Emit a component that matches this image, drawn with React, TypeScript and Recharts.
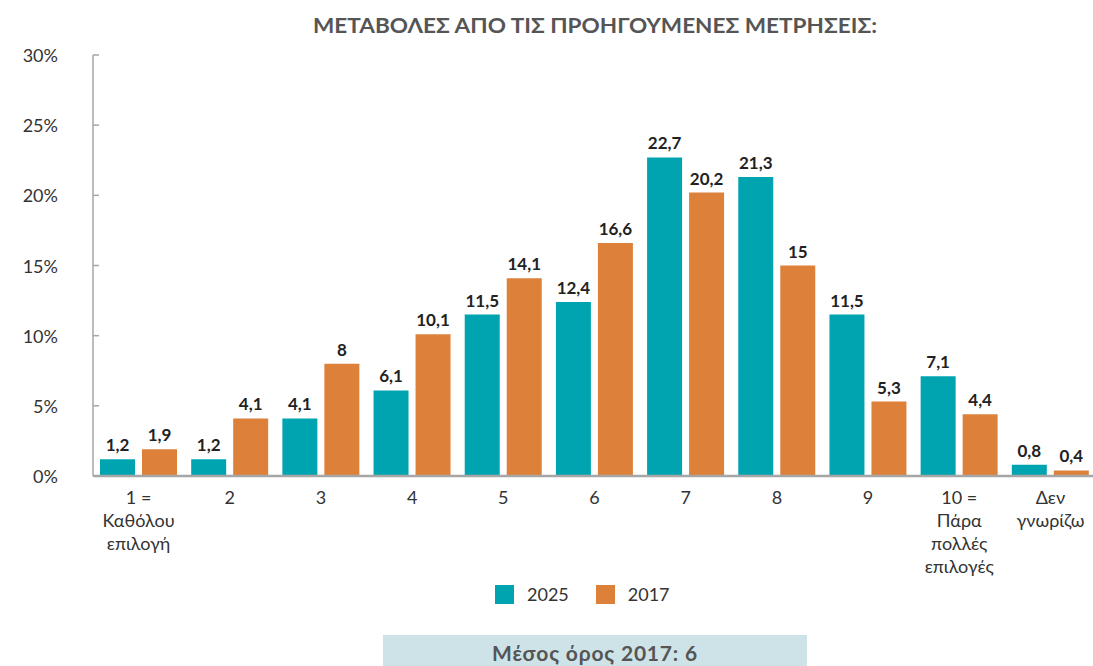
import React from 'react';
import { Bar, BarChart, LabelList, Legend, XAxis, YAxis } from 'recharts';

const categories = [
  '1 =\nΚαθόλου\nεπιλογή',
  '2',
  '3',
  '4',
  '5',
  '6',
  '7',
  '8',
  '9',
  '10 =\nΠάρα\nπολλές\nεπιλογές',
  'Δεν\nγνωρίζω',
];
const values2025 = [1.2, 1.2, 4.1, 6.1, 11.5, 12.4, 22.7, 21.3, 11.5, 7.1, 0.8];
const values2017 = [1.9, 4.1, 8, 10.1, 14.1, 16.6, 20.2, 15, 5.3, 4.4, 0.4];
const yTicks = [0, 5, 10, 15, 20, 25, 30];

const TEAL = '#00A4B0';
const ORANGE = '#DD803A';
const AXIS = '#A6A6A6';
const FONT = 'Lato, "Open Sans", sans-serif';

const AXIS_X = 93;
const PLOT_BOTTOM = 476;

const data = categories.map((name, i) => ({
  name,
  y2025: values2025[i],
  y2017: values2017[i],
}));

const fmt = (v: number) => String(v).replace('.', ',');

// eslint-disable-next-line @typescript-eslint/no-explicit-any
const YTick = (props: any) => {
  const { y, payload } = props;
  return (
    <g>
      <line x1={AXIS_X} x2={AXIS_X + 6} y1={y} y2={y} stroke={AXIS} strokeWidth={1.5} />
      <text
        x={AXIS_X - 35}
        y={y}
        textAnchor="end"
        dominantBaseline="central"
        fontFamily={FONT}
        fontSize={18}
        fill="#333"
      >
        {payload.value}%
      </text>
    </g>
  );
};

// eslint-disable-next-line @typescript-eslint/no-explicit-any
const XTick = (props: any) => {
  const { x, payload } = props;
  const lines = String(payload.value).split('\n');
  return (
    <text textAnchor="middle" fontFamily={FONT} fontSize={18} fill="#333">
      {lines.map((l, i) => (
        <tspan key={i} x={x} y={PLOT_BOTTOM + 21 + i * 23} dominantBaseline="central">
          {l}
        </tspan>
      ))}
    </text>
  );
};

const LegendContent = () => (
  <div style={{ display: 'flex', alignItems: 'center', fontFamily: FONT, fontSize: 18, color: '#333' }}>
    {[
      { label: '2025', color: TEAL },
      { label: '2017', color: ORANGE },
    ].map(item => (
      <div key={item.label} style={{ display: 'flex', alignItems: 'center', marginRight: 27 }}>
        <span style={{ width: 19, height: 19, background: item.color, display: 'inline-block', marginRight: 13 }} />
        <span>{item.label}</span>
      </div>
    ))}
  </div>
);

export default function App() {
  return (
    <div
      style={{
        position: 'absolute',
        left: 0,
        top: 0,
        width: 1093,
        height: 666,
        overflow: 'hidden',
        background: '#fff',
      }}
    >
      <svg width={1093} height={45} style={{ position: 'absolute', left: 0, top: 0 }}>
        <text
          x={313}
          y={33}
          textLength={564}
          lengthAdjust="spacingAndGlyphs"
          fontFamily={FONT}
          fontWeight={700}
          fontSize={21}
          fill="#555"
        >
          ΜΕΤΑΒΟΛΕΣ ΑΠΟ ΤΙΣ ΠΡΟΗΓΟΥΜΕΝΕΣ ΜΕΤΡΗΣΕΙΣ:
        </text>
      </svg>
      <div style={{ position: 'absolute', left: 0, top: 0 }}>
        <BarChart
          width={1100}
          height={666}
          data={data}
          margin={{ top: 55, right: 4, left: 0, bottom: 100 }}
          barSize={35}
          barGap={7}
        >
          <XAxis
            dataKey="name"
            height={90}
            interval={0}
            tickLine={false}
            axisLine={{ stroke: AXIS, strokeWidth: 2.5 }}
            tick={<XTick />}
          />
          <YAxis
            width={93}
            domain={[0, 30]}
            ticks={yTicks}
            interval={0}
            tickLine={false}
            axisLine={{ stroke: AXIS, strokeWidth: 1.5 }}
            tick={<YTick />}
          />
          <Legend
            layout="horizontal"
            verticalAlign="middle"
            align="center"
            content={<LegendContent />}
            wrapperStyle={{ position: 'absolute', top: 583, left: 495, width: 300, height: 20 }}
          />
          <Bar dataKey="y2025" name="2025" fill={TEAL} isAnimationActive={false}>
            <LabelList
              dataKey="y2025"
              position="top"
              offset={8}
              formatter={(v: number) => fmt(v)}
              style={{ fontFamily: FONT, fontSize: 17, fontWeight: 700, fill: '#222' }}
            />
          </Bar>
          <Bar dataKey="y2017" name="2017" fill={ORANGE} isAnimationActive={false}>
            <LabelList
              dataKey="y2017"
              position="top"
              offset={8}
              formatter={(v: number) => fmt(v)}
              style={{ fontFamily: FONT, fontSize: 17, fontWeight: 700, fill: '#222' }}
            />
          </Bar>
        </BarChart>
      </div>
      <div
        style={{
          position: 'absolute',
          left: 383,
          top: 635,
          width: 424,
          height: 31,
          background: '#CDE3E8',
          fontFamily: FONT,
          fontWeight: 700,
          fontSize: 21,
          letterSpacing: 0.8,
          color: '#555',
          textAlign: 'center',
          lineHeight: '36px',
        }}
      >
        Μέσος όρος 2017: 6
      </div>
    </div>
  );
}
